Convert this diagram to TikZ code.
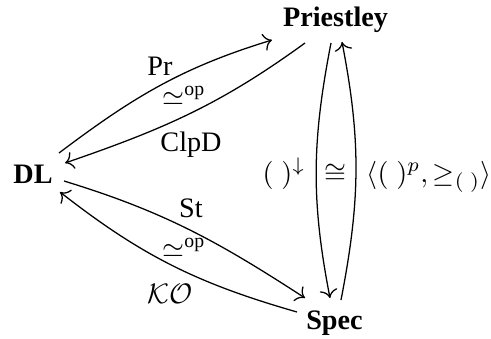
\documentclass[tikz,border=0pt]{standalone}
\usepackage{fontspec}
\setmainfont{Liberation Serif}
\usetikzlibrary{arrows.meta}
\begin{document}
\begin{tikzpicture}[x=0.3546pt,y=0.3546pt,
  obj/.style={font=\bfseries, inner sep=0pt, anchor=base},
  lbl/.style={inner sep=0pt},
  arr/.style={-{To[scale=1.15]}, line width=0.45pt}]
\useasboundingbox (0,0) rectangle (491,338);
\node[obj] (DL) at (33,155) {DL};
\node[obj] (P) at (335.5,311.5) {Priestley};
\node[obj] (S) at (334.5,9) {Spec};
% lens DL -- Priestley
\draw[arr] ([shift={(26,30)}]DL.base) to[out=37,in=197] ([shift={(-63.5,-13.5)}]P.base);
\draw[arr] ([shift={(-30.5,-16.5)}]P.base) to[out=216,in=19] ([shift={(32,20)}]DL.base);
% lens DL -- Spec
\draw[arr] ([shift={(31,2)}]DL.base) to[out=-17,in=147] ([shift={(-29.5,31)}]S.base);
\draw[arr] ([shift={(-37.5,17)}]S.base) to[out=164,in=-38] ([shift={(27,-9)}]DL.base);
% lens Priestley -- Spec
\draw[arr] ([shift={(-4.5,-16.5)}]P.base) to[out=-101,in=101] ([shift={(-4.5,31)}]S.base);
\draw[arr] ([shift={(6.5,29)}]S.base) to[out=79,in=-79] ([shift={(6.5,-15.5)}]P.base);
% labels
\node[lbl, anchor=base] (lpr) at (160,263) {Pr};
\node[lbl] (leqa) at (184,242) {$\simeq^{\mathrm{op}}$};
\node[lbl, anchor=base] (lclpd) at (191,187) {ClpD};
\node[lbl, anchor=base] (lst) at (191,121) {St};
\node[lbl] (leqb) at (184,90.5) {$\simeq^{\mathrm{op}}$};
\node[lbl, anchor=base] (lko) at (170,35) {$\mathcal{KO}$};
\node[lbl, anchor=base] (ldown) at (284,156) {$(\;)^{\downarrow}$};
\node[lbl, anchor=base] (liso) at (335,156) {$\cong$};
\node[lbl, anchor=base west] (lup) at (366,156) {$\langle(\;)^{p},\geq_{(\;)}\rangle$};
\end{tikzpicture}
\end{document}
